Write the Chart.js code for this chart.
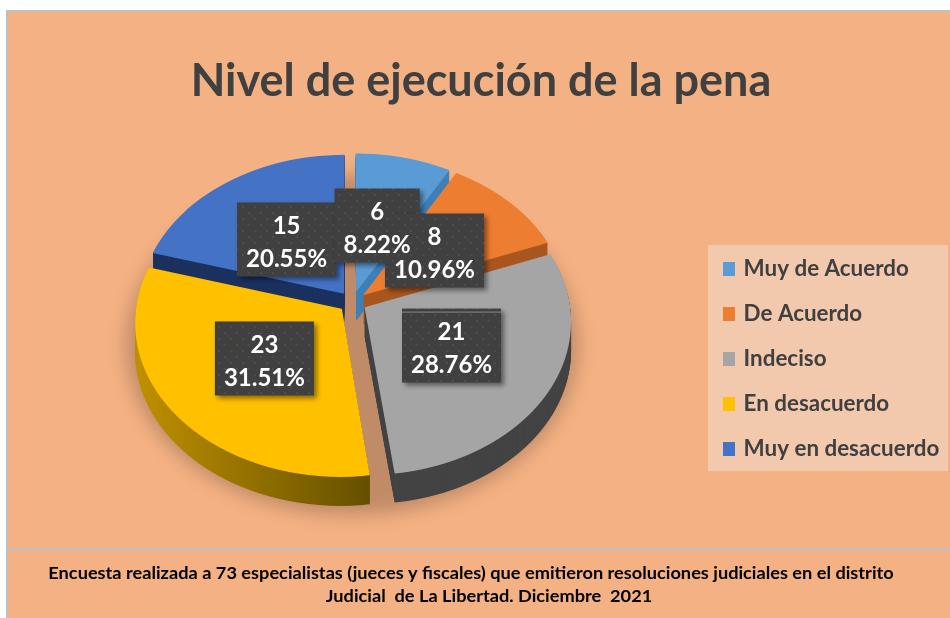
<!DOCTYPE html>
<html>
<head>
<meta charset="utf-8">
<style>html,body{margin:0;padding:0;background:#fff}canvas{display:block}</style>
<script src="https://cdn.jsdelivr.net/npm/chart.js@4"></script>
</head>
<body>
<canvas id="c" width="950" height="618"></canvas>
<script>
const categories = ["Muy de Acuerdo", "De Acuerdo", "Indeciso", "En desacuerdo", "Muy en desacuerdo"];
const counts = [6, 8, 21, 23, 15];
const percentLabels = ["8.22%", "10.96%", "28.76%", "31.51%", "20.55%"];
const chartTitle = "Nivel de ejecución de la pena";
const footerLines = [
  "Encuesta realizada a 73 especialistas (jueces y fiscales) que emitieron resoluciones judiciales en el distrito",
  "Judicial  de La Libertad. Diciembre  2021"
];

const topColors = ["#5B9BD5", "#ED7D31", "#A5A5A5", "#FFC000", "#4472C4"];
const sideColors = ["#3F7FB8", "#A9561F", "#434343", null, "#1B315F"];
const labelNudge = [[-3.8, 3.4], [-3.6, 3.2], [-3.6, -1.9], [3.2, -1.8], [1.5, 4]];
const drawOrder = [4, 0, 1, 3, 2];
const labelOrder = [4, 0, 1, 2, 3];
// perspective view of the flat pie: screen = centre + (u, v * B) * 1 / (1 - K * v)
const pie = {cx: 352.5, cy: 302, B: 0.7428, K: 0.000423, depth: 29, explode: 14};

// Draw one library arc through the perspective view, one pixel row at a time.
function drawArcInView(ctx, arc, color) {
  const saved = arc.options;
  arc.options = Object.assign({}, saved, {backgroundColor: color, borderWidth: 0});
  const mid = (arc.startAngle + arc.endAngle) / 2;
  const ex = Math.cos(mid) * pie.explode, ey = Math.sin(mid) * pie.explode;
  for (let Y = 130; Y < 500; Y++) {
    const d = Y + 0.5 - pie.cy;
    const v = d / (pie.B + pie.K * d);
    const p = 1 / (1 - pie.K * v);
    ctx.save();
    ctx.beginPath();
    ctx.rect(0, Y, 950, 1);
    ctx.clip();
    ctx.translate(pie.cx, Y + 0.5);
    ctx.scale(p, pie.B * p * p);
    ctx.translate(ex, ey - v);
    ctx.translate(-arc.x, -arc.y);
    arc.draw(ctx);
    ctx.restore();
  }
  arc.options = saved;
}

function labelPoint(arc) {
  const c = arc.getCenterPoint();
  const mid = (arc.startAngle + arc.endAngle) / 2;
  const u = c.x - arc.x + Math.cos(mid) * pie.explode;
  const v = c.y - arc.y + Math.sin(mid) * pie.explode;
  const p = 1 / (1 - pie.K * v);
  return {x: pie.cx + u * p, y: pie.cy + v * pie.B * p};
}

const scene = {
  id: "scene",
  afterLayout(chart) {
    const l = chart.legend;
    const pad = l.options.labels.padding;
    const size = l.options.labels.font.size;
    l.left = 725.6 - pad; l.right = 950;
    l.top = 269 - size / 2 - pad; l.bottom = l.top + 320;
  },
  beforeDraw(chart) {
    const ctx = chart.ctx;
    ctx.save();
    ctx.fillStyle = "#ffffff"; ctx.fillRect(0, 0, 950, 618);
    ctx.fillStyle = "#F4B183"; ctx.fillRect(6, 10, 944, 608);
    ctx.fillStyle = "#BFBFBF";
    ctx.fillRect(6, 10, 944, 2); ctx.fillRect(6, 10, 2, 608); ctx.fillRect(6, 548, 944, 2);
    ctx.fillStyle = "#F3C9AD"; ctx.fillRect(708, 245, 240, 226);
    ctx.fillStyle = "#000000";
    ctx.font = "bold 17px Lato"; ctx.textAlign = "center"; ctx.textBaseline = "middle";
    [[471, 574], [489, 597]].forEach(([x, y], i) => {
      ctx.save();
      ctx.translate(x, y);
      ctx.scale(1.07, 1);
      ctx.fillText(footerLines[i], 0, 0);
      ctx.restore();
    });
    ctx.restore();
  },
  beforeDatasetsDraw(chart) {
    const ctx = chart.ctx;
    const arcs = chart.getDatasetMeta(0).data;
    ctx.save();
    ctx.filter = "blur(9px)";
    ctx.fillStyle = "rgba(0,0,0,0.21)";
    ctx.beginPath();
    ctx.ellipse(352, 345, 226, 170, 0, 0, Math.PI * 2);
    ctx.fill();
    ctx.restore();
    drawOrder.forEach(i => {
      const arc = arcs[i];
      const off = document.createElement("canvas");
      off.width = 950; off.height = 618;
      const o = off.getContext("2d");
      drawArcInView(o, arc, "#000000");
      o.globalCompositeOperation = "source-in";
      let side = sideColors[i];
      if (!side) {
        side = o.createLinearGradient(137, 0, 368, 0);
        side.addColorStop(0, "#BF9000");
        side.addColorStop(1, "#665000");
      }
      o.fillStyle = side;
      o.fillRect(0, 0, 950, 618);
      for (let k = pie.depth; k >= 1; k--) ctx.drawImage(off, 0, k);
      drawArcInView(ctx, arc, topColors[i]);
    });
    return false;
  },
  afterDraw(chart) {
    const ctx = chart.ctx;
    const arcs = chart.getDatasetMeta(0).data;
    const pc = document.createElement("canvas");
    pc.width = pc.height = 12;
    const p = pc.getContext("2d");
    p.fillStyle = "#404040"; p.fillRect(0, 0, 12, 12);
    p.fillStyle = "#4C4C4C";
    p.fillRect(2, 2, 2, 2); p.fillRect(8, 8, 2, 2);
    const pattern = ctx.createPattern(pc, "repeat");
    const spots = labelOrder.map(i => {
      const pt = labelPoint(arcs[i]);
      return {i, x: pt.x + labelNudge[i][0], y: pt.y + labelNudge[i][1]};
    });
    ctx.save();
    ctx.font = "bold 24px Lato";
    spots.forEach(({i, x, y}) => {
      const w = ctx.measureText(percentLabels[i]).width + 18;
      const h = 74;
      ctx.save();
      ctx.shadowColor = "rgba(0,0,0,0.45)";
      ctx.shadowBlur = 5; ctx.shadowOffsetX = 3; ctx.shadowOffsetY = 3;
      ctx.fillStyle = pattern;
      ctx.fillRect(x - w / 2, y - h / 2, w, h);
      ctx.restore();
      if (i === 2) { ctx.fillStyle = "#8A8A8A"; ctx.fillRect(x - w / 2, y - h / 2 + 3, w, 1); }
    });
    ctx.fillStyle = "#ffffff";
    ctx.textAlign = "center"; ctx.textBaseline = "middle";
    spots.forEach(({i, x, y}) => {
      ctx.fillText(String(counts[i]), x, y - 13);
      ctx.fillText(percentLabels[i], x, y + 20);
    });
    ctx.restore();
  }
};

new Chart(document.getElementById("c"), {
  type: "pie",
  data: {
    labels: categories,
    datasets: [{
      data: counts,
      backgroundColor: topColors,
      borderWidth: 0,
      hoverOffset: 0,
      radius: 205
    }]
  },
  options: {
    responsive: false,
    animation: false,
    events: [],
    layout: {padding: {left: 12}},
    plugins: {
      tooltip: {enabled: false},
      title: {
        display: true,
        text: chartTitle,
        color: "#404040",
        font: {family: "Lato", size: 45, weight: "bold"},
        padding: {top: 54, bottom: 10}
      },
      legend: {
        position: "right",
        align: "start",
        labels: {
          boxWidth: 6.8,
          boxHeight: 8.8,
          padding: 22.6,
          color: "#404040",
          font: {family: "Lato", size: 22.4, weight: "bold"},
          generateLabels(chart) {
            return Chart.overrides.pie.plugins.legend.labels.generateLabels(chart)
              .map(item => Object.assign(item, {strokeStyle: item.fillStyle, lineWidth: 5.2}));
          }
        }
      }
    }
  },
  plugins: [scene]
});
</script>
</body>
</html>
